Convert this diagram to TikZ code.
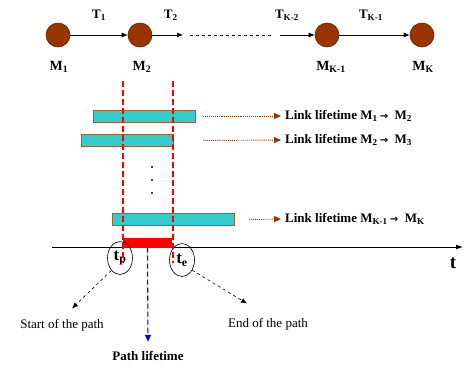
\documentclass[tikz,border=0pt]{standalone}
\usepackage{fontspec}
\setmainfont{Liberation Serif}
\newfontfamily\arrowfont{DejaVu Sans}
\usetikzlibrary{arrows.meta,shapes.geometric,positioning}
\definecolor{rust}{HTML}{993300}
\definecolor{rustline}{HTML}{5C2000}
\definecolor{barfill}{HTML}{33CCCC}
\definecolor{barline}{HTML}{A0603A}
\definecolor{pathred}{HTML}{FF0000}
\definecolor{lifeblue}{HTML}{0000FF}
\newcommand{\hopto}{\,{\arrowfont\bfseries\fontsize{10}{11}\selectfont →}\ \ }
\tikzset{
  every node/.style={text=black},
  hop/.style={circle, draw=rustline, fill=rust, minimum size=24pt,
    inner sep=0pt, line width=.6pt},
  hoplabel/.style={font=\fontsize{14}{15}\selectfont\bfseries},
  hoptime/.style={font=\fontsize{13}{14}\selectfont\bfseries},
  link/.style={-{Latex[length=6pt,width=5pt]}, line width=.7pt},
  lifebar/.style={rectangle, draw=barline, fill=barfill, line width=.9pt,
    minimum height=12pt, inner sep=0pt},
  lifelabel/.style={font=\fontsize{13}{14}\selectfont\bfseries,
    anchor=west, inner sep=0pt},
  lifearrow/.style={-{Triangle[length=7pt,width=6pt]}, draw=rust,
    densely dotted, line width=.9pt, shorten >=4pt},
  window/.style={draw=pathred, dash pattern=on 6pt off 3pt, line width=1.2pt},
  instant/.style={ellipse, draw, line width=.6pt, inner sep=0pt,
    minimum width=25pt, minimum height=33pt,
    font=\fontsize{17}{18}\selectfont\bfseries},
  pointer/.style={-{Latex[length=6pt,width=5pt]}, dashed, line width=.6pt},
  caption/.style={font=\fontsize{13}{14}\selectfont}
}

\begin{document}
\begin{tikzpicture}[x=1pt,y=-1pt]
\useasboundingbox (0,0) rectangle (474,365);

% Route of K hops.
\node[hop] (m1) at (58,35) {};
\node[hop] (m2) at (140,35) {};
\node[hop] (mk1) at (327,35) {};
\node[hop] (mk) at (422,35) {};
\node[hoplabel] (lm1) at (59,67) {M\textsubscript{1}};
\node[hoplabel] (lm2) at (142,67) {M\textsubscript{2}};
\node[hoplabel] (lmk1) at (331,67) {M\textsubscript{K-1}};
\node[hoplabel] (lmk) at (423,67) {M\textsubscript{K}};

\coordinate (gapa) at (183,35);
\coordinate (gapb) at (190,35);
\coordinate (gapc) at (272,35);
\coordinate (gapd) at (280,35);
\draw[link] (m1) -- node[hoptime,above=11pt]{T\textsubscript{1}} (m2);
\draw[link] (m2) -- node[hoptime,above=11pt,pos=.6]{T\textsubscript{2}} (gapa);
\draw[line width=.7pt, dash pattern=on 3pt off 3pt] (gapb) -- (gapc);
\draw[link] (gapd) -- node[hoptime,above=11pt,pos=.2]{T\textsubscript{K-2}} (mk1);
\draw[link] (mk1) -- node[hoptime,above=11pt,pos=.45]{T\textsubscript{K-1}} (mk);

% Lifetime of each link.
\node[lifebar, minimum width=102pt] (bara) at (144,116) {};
\node[lifebar, minimum width=92pt] (barb) at (127,140.5) {};
\node[lifebar, minimum width=122pt] (barc) at (173,219.5) {};
\foreach \y in {167,180,193}
  \fill (152,\y) circle (1.2pt);

\node[lifelabel] (linka) at (285,116) {Link lifetime M\textsubscript{1}\hopto M\textsubscript{2}};
\node[lifelabel] (linkb) at (285,140) {Link lifetime M\textsubscript{2}\hopto M\textsubscript{3}};
\node[lifelabel] (linkc) at (285,219) {Link lifetime M\textsubscript{K-1}\hopto M\textsubscript{K}};
\draw[lifearrow] ([xshift=8pt]bara.east) -- (linka.west);
\draw[lifearrow] ([xshift=30pt]barb.east) -- (linkb.west);
\draw[lifearrow] ([xshift=15pt]barc.east) -- (linkc.west);

% Time axis and the common window.
\coordinate (axis0) at (52,247);
\coordinate (axis1) at (463,247);
\draw[-{Latex[length=7pt,width=5pt]}, line width=.8pt] (axis0) -- (axis1);
\node[font=\fontsize{19}{20}\selectfont\bfseries] (tlabel) at (453,263) {t};

\node[rectangle, fill=pathred, minimum width=49pt, minimum height=10pt,
  inner sep=0pt] (pathbar) at (147.5,242.5) {};

\node[instant] (tp) at (120,258) {t\textsubscript{p}};
\node[instant] (te) at (182,260) {t\textsubscript{e}};

\coordinate (wina) at (123,81);
\coordinate (winb) at (173,81);
\draw[window] (wina) -- (123,263);
\draw[window] (winb) -- (173,263);

% Captions.
\node[caption] (start) at (62,325) {Start of the path};
\node[caption] (end) at (268,324) {End of the path};
\node[caption, font=\fontsize{13}{14}\selectfont\bfseries] (plife) at (148,356) {Path lifetime};

\draw[pointer] (tp.235) -- ([xshift=10pt,yshift=7pt]start.north);
\draw[pointer] (te.-45) -- ([xshift=-21pt,yshift=11pt]end.north);
\draw[-{Triangle[length=7pt,width=6pt]}, draw=lifeblue, fill=lifeblue,
  dash pattern=on 5pt off 3pt, line width=1.1pt]
  (pathbar.south) -- ([yshift=6pt]plife.north);

\end{tikzpicture}
\end{document}
